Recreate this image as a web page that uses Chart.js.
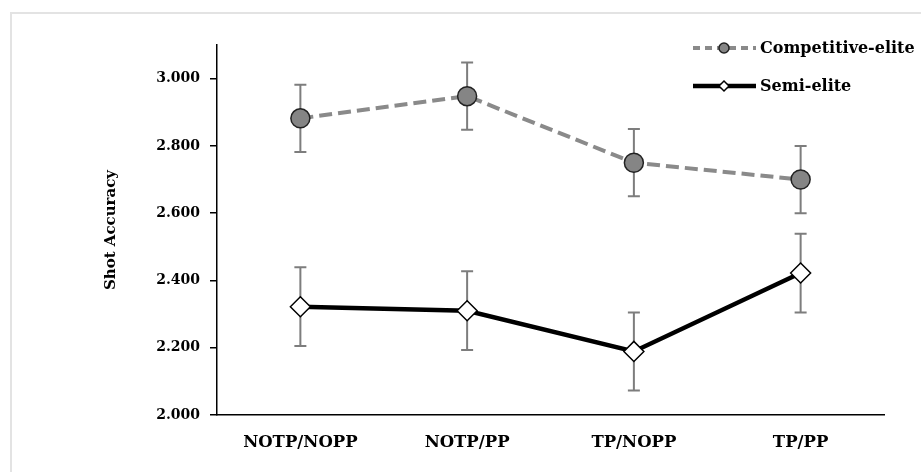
<!DOCTYPE html>
<html>
<head>
<meta charset="utf-8">
<script src="https://cdn.jsdelivr.net/npm/chart.js@4"></script>
<style>
  body { margin: 0; background: #fff; }
  #marco { position: absolute; left: 10px; top: 12px; width: 940px; height: 490px; border: 2px solid #e3e3e3; }
  #caja { position: absolute; left: 0; top: 0; width: 921px; height: 472px; }
</style>
</head>
<body>
<div id="marco"></div>
<div id="caja"><canvas id="myChart"></canvas></div>
<script>
// Datos
const categorias       = ["NOTP/NOPP", "NOTP/PP", "TP/NOPP", "TP/PP"];
const competitiveElite = [2.882, 2.948, 2.750, 2.700];
const competitiveErr   = [0.100, 0.100, 0.100, 0.100];
const semiElite        = [2.322, 2.310, 2.189, 2.422];
const semiErr          = [0.117, 0.117, 0.116, 0.117];
const yTicks           = [2.0, 2.2, 2.4, 2.6, 2.8, 3.0];
const errores          = [competitiveErr, semiErr];

const fuente = "'DejaVu Serif', serif";

// barras de error, debajo de las lineas
const errorBars = {
  id: "errorBars",
  beforeDatasetsDraw(chart) {
    const ctx = chart.ctx, x = chart.scales.x, y = chart.scales.y;
    ctx.save();
    ctx.strokeStyle = "#7d7d7d";
    ctx.lineWidth = 2;
    chart.data.datasets.forEach((ds, i) => {
      ds.data.forEach((v, j) => {
        const px  = x.getPixelForValue(j);
        const top = y.getPixelForValue(v + errores[i][j]);
        const bot = y.getPixelForValue(v - errores[i][j]);
        ctx.beginPath();
        ctx.moveTo(px, top); ctx.lineTo(px, bot);
        ctx.moveTo(px - 6, top); ctx.lineTo(px + 6, top);
        ctx.moveTo(px - 6, bot); ctx.lineTo(px + 6, bot);
        ctx.stroke();
      });
    });
    ctx.restore();
  }
};

// leyenda con linea + marcador
const leyenda = {
  id: "leyenda",
  afterDraw(chart) {
    const ctx = chart.ctx;
    const filas = [{ y: 48 }, { y: 86 }];
    chart.data.datasets.forEach((ds, i) => {
      const yy = filas[i].y;
      ctx.save();
      ctx.strokeStyle = ds.borderColor;
      ctx.lineWidth = ds.borderWidth;
      ctx.setLineDash(i === 0 ? [7, 5] : []);
      ctx.beginPath();
      ctx.moveTo(693, yy); ctx.lineTo(756, yy);
      ctx.stroke();
      ctx.setLineDash([]);
      ctx.fillStyle = ds.pointBackgroundColor;
      ctx.strokeStyle = ds.pointBorderColor;
      ctx.lineWidth = 1.5;
      Chart.helpers.drawPoint(ctx, { pointStyle: ds.pointStyle, radius: 5, rotation: 0, borderWidth: 1.5 }, 724, yy);
      ctx.fillStyle = "#000";
      ctx.font = "bold 16px " + fuente;
      ctx.textBaseline = "middle";
      ctx.fillText(ds.label, 760, yy + 1);
      ctx.restore();
    });
  }
};

function renderGrafica() {
  const data = {
    labels: categorias,
    datasets: [
      {
        label: "Competitive-elite",
        data: competitiveElite,
        borderColor: "#8a8a8a",
        borderWidth: 4,
        borderDash: [13, 6],
        pointStyle: "circle",
        pointRadius: 9.5,
        pointBackgroundColor: "#858585",
        pointBorderColor: "#222",
        pointBorderWidth: 1.5,
        tension: 0
      },
      {
        label: "Semi-elite",
        data: semiElite,
        borderColor: "#000",
        borderWidth: 4.5,
        pointStyle: "rectRot",
        pointRadius: 10,
        pointBackgroundColor: "#fff",
        pointBorderColor: "#000",
        pointBorderWidth: 1.5,
        tension: 0
      }
    ]
  };
  const config = {
    type: "line",
    data,
    plugins: [errorBars, leyenda],
    options: {
      responsive: true,
      maintainAspectRatio: false,
      animation: false,
      layout: { padding: { left: 0, top: 45, right: 37, bottom: 0 } },
      plugins: { legend: { display: false }, tooltip: { enabled: false } },
      scales: {
        x: {
          offset: true,
          grid: { display: false, drawTicks: false },
          border: { color: "#000", width: 1.5 },
          ticks: { color: "#000", padding: 18, font: { family: fuente, weight: "bold", size: 16.5 } },
          afterFit: (s) => { s.height = 57; }
        },
        y: {
          min: 2,
          max: 3.1,
          afterBuildTicks: (s) => { s.ticks = yTicks.map(v => ({ value: v })); },
          grid: { drawOnChartArea: false, tickLength: 7, color: "#000", lineWidth: 1.5 },
          border: { color: "#000", width: 1.5 },
          ticks: { color: "#000", padding: 10, font: { family: fuente, weight: "bold", size: 14 },
                   callback: (v) => Number(v).toFixed(3) },
          title: { display: true, text: "Shot Accuracy", color: "#000",
                   font: { family: fuente, weight: "bold", size: 15 }, padding: { top: 102, bottom: 0 } },
          afterFit: (s) => { s.width = 217; }
        }
      }
    }
  };
  new Chart(document.getElementById("myChart"), config);
}
renderGrafica();
</script>
</body>
</html>
